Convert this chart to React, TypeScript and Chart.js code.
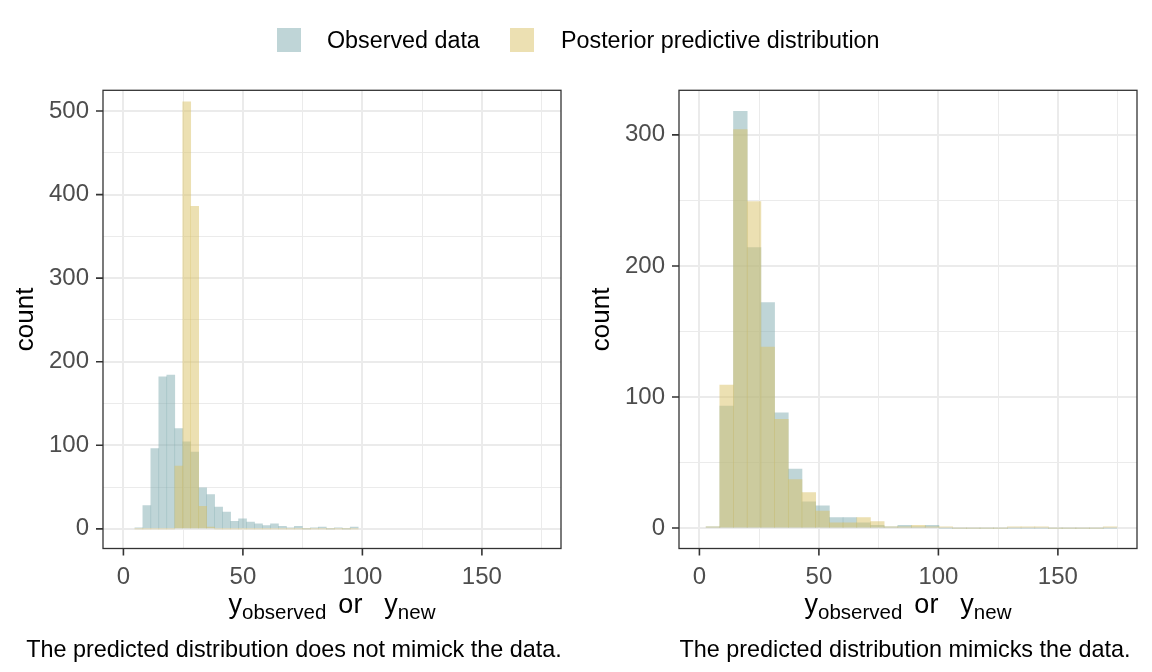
import React, { useEffect, useRef } from "react";
import { Chart, registerables } from "chart.js";

Chart.register(...registerables);

const FONT = "'Liberation Sans', Arial, Helvetica, sans-serif";

// ---- Left panel: bins (centers) and counts ----
const leftBinCenters = [
  6.47, 9.81, 13.14, 16.48, 19.82, 23.16, 26.49, 29.83, 33.17, 36.5, 39.84, 43.18, 46.51, 49.85,
  53.19, 56.53, 59.86, 63.2, 66.54, 69.87, 73.21, 76.55, 79.88, 83.22, 86.56, 89.9, 93.23, 96.57,
];
const leftObserved = [
  1, 28, 96, 182, 184, 120, 104, 92, 49, 41, 26, 20, 9, 12, 8, 6, 4, 6, 3, 1, 3, 0, 1, 2, 0, 1, 0, 2,
];
const leftPredicted = [
  0, 0, 0, 0, 0, 75, 511, 386, 27, 2, 0, 0, 0, 0, 0, 0, 0, 0, 0, 0, 0, 0, 0, 0, 0, 0, 0, 0,
];

// ---- Right panel: bins (centers) and counts ----
const rightBinCenters = [
  5.67, 11.4, 17.13, 22.86, 28.59, 34.32, 40.05, 45.78, 51.51, 57.24, 62.97, 68.7, 74.43, 80.16,
  85.89, 91.62, 97.35, 103.08, 108.81, 114.54, 120.27, 126.0, 131.73, 137.46, 143.19, 148.92,
  154.65, 160.38, 166.11, 171.84,
];
const rightObserved = [
  1, 93, 318, 214, 172, 88, 45, 20, 17, 8, 8, 4, 2, 1, 2, 1, 2, 0, 0, 0, 0, 0, 0, 0, 0, 0, 0, 0, 0, 0,
];
const rightPredicted = [
  1, 109, 304, 249, 138, 83, 37, 27, 13, 4, 4, 8, 5, 1, 1, 2, 1, 1, 0, 0, 0, 0, 1, 1, 1, 0, 0, 0, 0, 1,
];

const legendLabels = ["Observed data", "Posterior predictive distribution"];
const xMajorTicks = [0, 50, 100, 150];
const xMinorTicks = [25, 75, 125, 175];
const yMajorLeft = [0, 100, 200, 300, 400, 500];
const yMinorLeft = [50, 150, 250, 350, 450];
const yMajorRight = [0, 100, 200, 300];
const yMinorRight = [50, 150, 250];
const yTitle = "count";
const leftCaption = "The predicted distribution does not mimick the data.";
const rightCaption = "The predicted distribution mimicks the data.";

const OBS_COLOR = "rgba(127,171,175,0.5)";
const PRED_COLOR = "rgba(217,193,101,0.5)";

const panelDecor = {
  id: "panelDecor",
  afterDatasetsDraw(chart: any, _args: any, opts: any) {
    const { ctx, chartArea: a, scales } = chart;
    ctx.save();
    ctx.strokeStyle = "#333333";
    ctx.lineWidth = 1.3;
    ctx.strokeRect(a.left, a.top, a.right - a.left, a.bottom - a.top);
    // tick marks
    ctx.lineWidth = 1.6;
    ctx.beginPath();
    for (const v of opts.xMajor) {
      const px = scales.x.getPixelForValue(v);
      ctx.moveTo(px, a.bottom);
      ctx.lineTo(px, a.bottom + 7);
    }
    for (const v of opts.yMajor) {
      const py = scales.y.getPixelForValue(v);
      ctx.moveTo(a.left - 7, py);
      ctx.lineTo(a.left, py);
    }
    ctx.stroke();
    ctx.restore();
  },
  afterDraw(chart: any, _args: any, opts: any) {
    const { ctx, chartArea: a } = chart;
    ctx.save();
    ctx.fillStyle = "#000000";
    ctx.textBaseline = "alphabetic";
    ctx.textAlign = "left";
    const mainFont = `27px ${FONT}`;
    const subFont = `20.5px ${FONT}`;
    const parts: any[] = [
      { t: "y", f: mainFont, dy: 0 },
      { t: "observed", f: subFont, dy: 6 },
      { gap: 12 },
      { t: "or", f: mainFont, dy: 0 },
      { gap: 22 },
      { t: "y", f: mainFont, dy: 0 },
      { t: "new", f: subFont, dy: 6 },
    ];
    let total = 0;
    for (const p of parts) {
      if (p.gap) { total += p.gap; continue; }
      ctx.font = p.f;
      p.w = ctx.measureText(p.t).width;
      total += p.w;
    }
    let x = (a.left + a.right) / 2 - total / 2;
    const base = opts.titleBaseline;
    for (const p of parts) {
      if (p.gap) { x += p.gap; continue; }
      ctx.font = p.f;
      ctx.fillText(p.t, x, base + p.dy);
      x += p.w;
    }
    ctx.font = `23.4px ${FONT}`;
    ctx.textAlign = "center";
    ctx.fillText(opts.caption, opts.captionX, opts.captionBaseline);
    ctx.restore();
  },
};

function setTicks(values: number[]) {
  return (scale: any) => {
    scale.ticks = values.slice().sort((p, q) => p - q).map((v) => ({ value: v }));
  };
}

function makeConfig(
  centers: number[], obs: number[], pred: number[], yMin: number, yMax: number,
  yMajor: number[], yMinor: number[], caption: string, captionX: number,
) {
  const obsData = centers.map((c, i) => ({ x: c, y: obs[i] }));
  const predData = centers.map((c, i) => ({ x: c, y: pred[i] }));
  const tickFont = { family: FONT, size: 24 };
  return {
    type: "bar" as const,
    data: {
      datasets: [
        {
          label: legendLabels[0],
          data: obsData,
          backgroundColor: OBS_COLOR,
          borderWidth: 0,
          grouped: false,
          barPercentage: 1,
          categoryPercentage: 1,
          order: 1,
        },
        {
          label: legendLabels[1],
          data: predData,
          backgroundColor: PRED_COLOR,
          borderWidth: 0,
          grouped: false,
          barPercentage: 1,
          categoryPercentage: 1,
          order: 0,
        },
      ],
    },
    options: {
      animation: false,
      responsive: true,
      maintainAspectRatio: false,
      layout: { padding: { left: 0, right: 15, top: 90.3, bottom: 83.5 } },
      plugins: {
        legend: { display: false },
        tooltip: { enabled: false },
        panelDecor: { caption, captionX, captionBaseline: 657, titleBaseline: 613, xMajor: xMajorTicks, yMajor },
      },
      scales: {
        x: {
          type: "linear",
          min: -8.54,
          max: 183.1,
          offset: false,
          afterBuildTicks: setTicks([...xMajorTicks, ...xMinorTicks]),
          afterFit: (s: any) => { s.height = 40; },
          border: { display: false },
          grid: {
            offset: false,
            color: "#ebebeb",
            lineWidth: (c: any) => (c.tick && xMajorTicks.includes(c.tick.value) ? 2 : 1),
            drawTicks: true,
            tickLength: 7,
            tickWidth: 1.6,
            tickColor: "rgba(0,0,0,0)",
          },
          ticks: {
            autoSkip: false,
            maxRotation: 0,
            padding: 7.8,
            color: "#4d4d4d",
            font: tickFont,
            callback: (v: any) => (xMajorTicks.includes(v) ? String(v) : ""),
          },
        },
        y: {
          type: "linear",
          min: yMin,
          max: yMax,
          afterBuildTicks: setTicks([...yMajor, ...yMinor]),
          afterFit: (s: any) => { s.width = 103; },
          border: { display: false },
          grid: {
            color: "#ebebeb",
            lineWidth: (c: any) => (c.tick && yMajor.includes(c.tick.value) ? 2 : 1),
            drawTicks: true,
            tickLength: 7,
            tickWidth: 1.6,
            tickColor: "rgba(0,0,0,0)",
          },
          ticks: {
            autoSkip: false,
            padding: 7,
            color: "#4d4d4d",
            font: tickFont,
            callback: (v: any) => (yMajor.includes(v) ? String(v) : ""),
          },
          title: {
            display: true,
            text: yTitle,
            color: "#000000",
            font: { family: FONT, size: 26 },
            padding: { top: 10, bottom: 0 },
          },
        },
      },
    },
    plugins: [panelDecor],
  };
}

function Panel(props: {
  centers: number[]; obs: number[]; pred: number[]; yMin: number; yMax: number;
  yMajor: number[]; yMinor: number[]; caption: string; captionX: number; left: number;
}) {
  const ref = useRef<HTMLCanvasElement | null>(null);
  useEffect(() => {
    if (!ref.current) return;
    const chart = new Chart(
      ref.current,
      makeConfig(props.centers, props.obs, props.pred, props.yMin, props.yMax, props.yMajor, props.yMinor, props.caption, props.captionX) as any,
    );
    return () => chart.destroy();
  }, []);
  return (
    <div style={{ position: "absolute", left: props.left, top: 0, width: 576, height: 672 }}>
      <canvas ref={ref} />
    </div>
  );
}

export default function App() {
  const legendText: React.CSSProperties = {
    position: "absolute",
    top: 26,
    fontSize: 23.3,
    lineHeight: "28px",
    fontFamily: FONT,
    color: "#000",
    whiteSpace: "nowrap",
  };
  return (
    <div style={{ position: "fixed", left: 0, top: 0, width: 1152, height: 672, background: "#ffffff", overflow: "hidden" }}>
      <Panel centers={leftBinCenters} obs={leftObserved} pred={leftPredicted} yMin={-23.5} yMax={524.8}
        yMajor={yMajorLeft} yMinor={yMinorLeft} caption={leftCaption} captionX={294} left={0} />
      <Panel centers={rightBinCenters} obs={rightObserved} pred={rightPredicted} yMin={-15.6} yMax={334}
        yMajor={yMajorRight} yMinor={yMinorRight} caption={rightCaption} captionX={329} left={576} />
      <div style={{ position: "absolute", left: 277, top: 28, width: 24, height: 24, background: OBS_COLOR }} />
      <div style={{ ...legendText, left: 327 }}>{legendLabels[0]}</div>
      <div style={{ position: "absolute", left: 510, top: 28, width: 24, height: 24, background: PRED_COLOR }} />
      <div style={{ ...legendText, left: 561 }}>{legendLabels[1]}</div>
    </div>
  );
}
